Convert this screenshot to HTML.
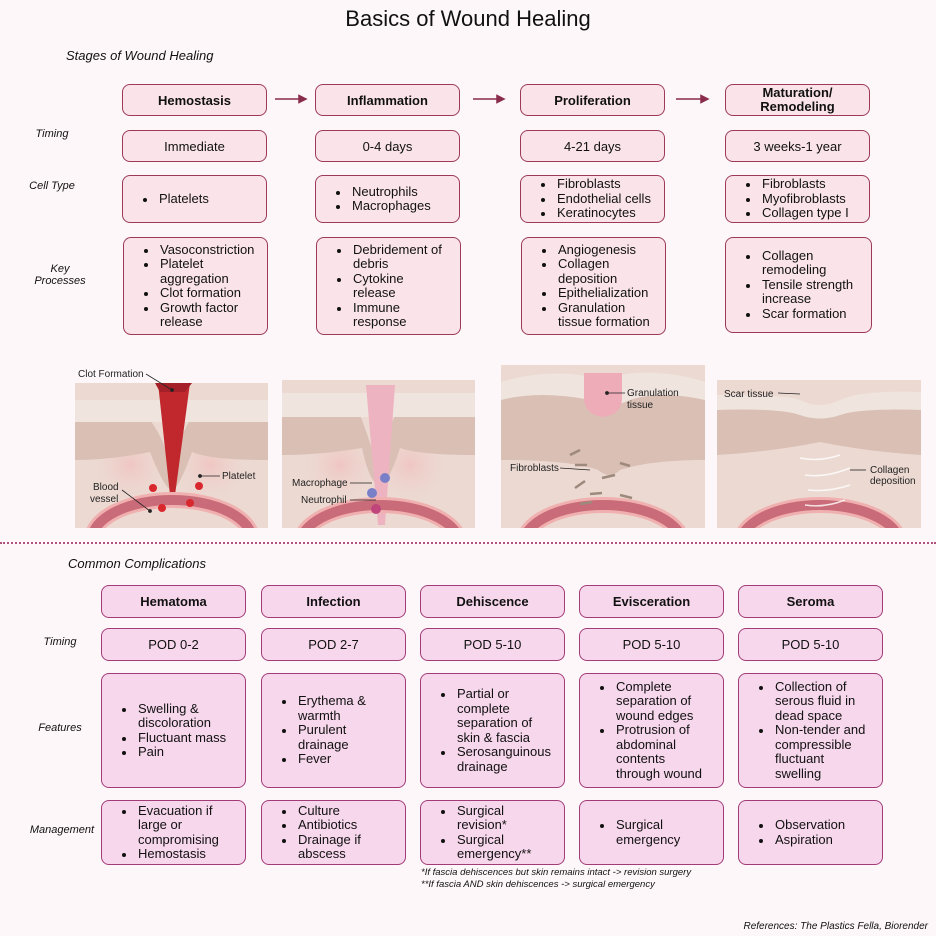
<!DOCTYPE html>
<html><head><meta charset="utf-8"><style>
*{margin:0;padding:0;box-sizing:border-box}
body{width:936px;height:936px;background:#fdf7fa;font-family:"Liberation Sans",sans-serif;color:#111;position:relative;overflow:hidden}
.a{position:absolute}
.t{border:1.6px solid #9c3a58;background:#fae4ea;border-radius:8px;display:flex;align-items:center;justify-content:center;font-size:13px;text-align:center}
.b{border:1.6px solid #a23c78;background:#f7d7ec;border-radius:8px;display:flex;align-items:center;justify-content:center;font-size:13px;text-align:center}
.h{font-weight:bold}
ul{list-style:none;text-align:left;line-height:14.5px;white-space:nowrap}
li{position:relative;padding-left:22px}
li:before{content:"";position:absolute;left:6px;top:6px;width:4px;height:4px;border-radius:50%;background:#111}
.lab{position:absolute;font-style:italic;font-size:11px;text-align:center;width:90px}
.sec{position:absolute;font-style:italic;font-size:13px}
.st{font-size:10px;fill:#222;font-family:"Liberation Sans",sans-serif}
.l{justify-content:flex-start;padding-left:14px}
</style></head><body>
<div class="a" style="left:0;width:936px;top:6px;text-align:center;font-size:22px">Basics of Wound Healing</div>
<div class="sec" style="left:66px;top:48px">Stages of Wound Healing</div>

<div class="lab" style="left:7px;top:128px">Timing</div>
<div class="lab" style="left:7px;top:180px">Cell Type</div>
<div class="lab" style="left:15px;top:263px">Key<br>Processes</div>

<div class="a t h" style="left:122px;top:84px;width:145px;height:32px">Hemostasis</div>
<div class="a t h" style="left:315px;top:84px;width:145px;height:32px">Inflammation</div>
<div class="a t h" style="left:520px;top:84px;width:145px;height:32px">Proliferation</div>
<div class="a t h" style="left:725px;top:84px;width:145px;height:32px;line-height:14px">Maturation/<br>Remodeling</div>

<svg class="a" style="left:0;top:0" width="936" height="120">
<g stroke="#8a2c4c" stroke-width="1.5" fill="#8a2c4c">
<line x1="275" y1="99" x2="300" y2="99"/><path d="M306 99 L299 95.5 L299 102.5Z"/>
<line x1="473" y1="99" x2="498" y2="99"/><path d="M504 99 L497 95.5 L497 102.5Z"/>
<line x1="676" y1="99" x2="702" y2="99"/><path d="M708 99 L701 95.5 L701 102.5Z"/>
</g></svg>

<div class="a t" style="left:122px;top:130px;width:145px;height:32px">Immediate</div>
<div class="a t" style="left:315px;top:130px;width:145px;height:32px">0-4 days</div>
<div class="a t" style="left:520px;top:130px;width:145px;height:32px">4-21 days</div>
<div class="a t" style="left:725px;top:130px;width:145px;height:32px">3 weeks-1 year</div>

<div class="a t l" style="left:122px;top:175px;width:145px;height:48px"><ul><li>Platelets</li></ul></div>
<div class="a t l" style="left:315px;top:175px;width:145px;height:48px"><ul><li>Neutrophils</li><li>Macrophages</li></ul></div>
<div class="a t l" style="left:520px;top:175px;width:145px;height:48px"><ul><li>Fibroblasts</li><li>Endothelial cells</li><li>Keratinocytes</li></ul></div>
<div class="a t l" style="left:725px;top:175px;width:145px;height:48px"><ul><li>Fibroblasts</li><li>Myofibroblasts</li><li>Collagen type I</li></ul></div>

<div class="a t l" style="left:123px;top:237px;width:145px;height:98px"><ul><li>Vasoconstriction</li><li>Platelet<br>aggregation</li><li>Clot formation</li><li>Growth factor<br>release</li></ul></div>
<div class="a t l" style="left:316px;top:237px;width:145px;height:98px"><ul><li>Debridement of<br>debris</li><li>Cytokine<br>release</li><li>Immune<br>response</li></ul></div>
<div class="a t l" style="left:521px;top:237px;width:145px;height:98px"><ul><li>Angiogenesis</li><li>Collagen<br>deposition</li><li>Epithelialization</li><li>Granulation<br>tissue formation</li></ul></div>
<div class="a t l" style="left:725px;top:237px;width:147px;height:96px"><ul><li>Collagen<br>remodeling</li><li>Tensile strength<br>increase</li><li>Scar formation</li></ul></div>

<!-- illustrations -->
<svg class="a" style="left:0;top:360px" width="936" height="180">
<defs>
<radialGradient id="rg"><stop offset="0" stop-color="#f2b8b8"/><stop offset="1" stop-color="#ecdad2" stop-opacity="0"/></radialGradient>
<clipPath id="c1"><rect x="75" y="23" width="193" height="145"/></clipPath>
<clipPath id="c2"><rect x="282" y="20" width="193" height="148"/></clipPath>
<clipPath id="c3"><rect x="501" y="5" width="204" height="163"/></clipPath>
<clipPath id="c4"><rect x="717" y="20" width="204" height="148"/></clipPath>
</defs>
<g clip-path="url(#c1)">
<rect x="75" y="23" width="193" height="145" fill="#ecdad2"/>
<ellipse cx="130" cy="105" rx="45" ry="45" fill="url(#rg)" opacity=".6"/>
<ellipse cx="210" cy="105" rx="45" ry="45" fill="url(#rg)" opacity=".6"/>
<path d="M75 60 L150 60 Q165 80 172 110 Q178 80 190 60 L268 60 L268 100 Q210 100 192 92 Q178 130 172 130 Q165 130 150 92 Q110 100 75 100Z" fill="#d9bfb4"/>
<path d="M75 40 L268 40 L268 62 L75 62Z" fill="#efe4de"/>
<path d="M158 23 L190 23 L175 135 L170 135Z" fill="#c0282e"/>
<path d="M155 23 L192 23 L185 32 L160 32Z" fill="#a51f28"/>
<ellipse cx="172" cy="180" rx="80" ry="40" fill="none" stroke="#f0b0b0" stroke-width="16"/>
<ellipse cx="172" cy="180" rx="80" ry="40" fill="none" stroke="#c96b78" stroke-width="10"/>
<g fill="#d8282e"><circle cx="153" cy="128" r="4"/><circle cx="162" cy="148" r="4"/><circle cx="190" cy="143" r="4"/><circle cx="199" cy="126" r="4"/></g>
</g>
<g clip-path="url(#c2)">
<rect x="282" y="20" width="193" height="148" fill="#ecdad2"/>
<ellipse cx="340" cy="105" rx="45" ry="45" fill="url(#rg)" opacity=".6"/>
<ellipse cx="410" cy="105" rx="45" ry="45" fill="url(#rg)" opacity=".6"/>
<path d="M282 55 L360 55 Q370 80 378 110 Q385 80 395 55 L475 55 L475 95 Q420 95 400 88 Q388 125 380 125 Q370 125 362 88 Q320 95 282 95Z" fill="#d9bfb4"/>
<path d="M282 33 L475 33 L475 57 L282 57Z" fill="#efe4de"/>
<path d="M366 25 L395 25 L385 165 L378 165Z" fill="#eeb3c0"/>
<ellipse cx="380" cy="185" rx="80" ry="40" fill="none" stroke="#f0b0b0" stroke-width="16"/>
<ellipse cx="380" cy="185" rx="80" ry="40" fill="none" stroke="#c96b78" stroke-width="10"/>
<circle cx="385" cy="118" r="5" fill="#7a80c8"/><circle cx="372" cy="133" r="5" fill="#7a80c8"/><circle cx="376" cy="149" r="5" fill="#c0457a"/>
</g>
<g clip-path="url(#c3)">
<rect x="501" y="5" width="204" height="163" fill="#ecdad2"/>
<path d="M501 30 Q540 20 570 30 Q600 40 610 48 Q630 40 650 25 Q680 20 705 30 L705 100 Q650 100 620 110 Q610 120 598 110 Q570 100 501 100Z" fill="#d9bfb4"/>
<path d="M501 22 Q540 10 580 15 Q600 20 620 15 Q660 8 705 22 L705 40 Q660 30 630 40 Q610 50 590 40 Q540 30 501 40Z" fill="#efe4de"/>
<path d="M584 13 L622 13 L622 40 Q620 55 603 57 Q586 55 584 40Z" fill="#eeabb8"/>
<ellipse cx="603" cy="185" rx="80" ry="40" fill="none" stroke="#f0b0b0" stroke-width="16"/>
<ellipse cx="603" cy="185" rx="80" ry="40" fill="none" stroke="#c96b78" stroke-width="10"/>
<g stroke="#9e8a7c" stroke-width="2.5"><line x1="570" y1="95" x2="580" y2="90"/><line x1="575" y1="105" x2="587" y2="105"/><line x1="620" y1="103" x2="630" y2="106"/><line x1="602" y1="118" x2="615" y2="115"/><line x1="575" y1="128" x2="585" y2="121"/><line x1="590" y1="134" x2="602" y2="133"/><line x1="620" y1="135" x2="632" y2="138"/><line x1="580" y1="144" x2="592" y2="142"/></g>
</g>
<g clip-path="url(#c4)">
<rect x="717" y="20" width="204" height="148" fill="#ecdad2"/>
<path d="M717 48 Q780 48 800 55 Q820 62 840 55 Q860 48 921 48 L921 95 Q870 92 820 82 Q770 92 717 95Z" fill="#d9bfb4"/>
<path d="M717 35 Q790 35 800 40 Q820 50 840 40 Q860 30 921 32 L921 50 Q860 48 840 55 Q820 62 800 55 Q780 48 717 50Z" fill="#efe4de"/>
<ellipse cx="820" cy="185" rx="80" ry="40" fill="none" stroke="#f0b0b0" stroke-width="16"/>
<ellipse cx="820" cy="185" rx="80" ry="40" fill="none" stroke="#c96b78" stroke-width="10"/>
<g stroke="#fff" stroke-width="1.5" fill="none" opacity=".8"><path d="M800 98 Q820 102 840 95"/><path d="M805 115 Q825 118 850 108"/><path d="M808 130 Q830 132 850 125"/><path d="M805 145 Q825 148 845 140"/></g>
</g>
<g stroke="#222" stroke-width="0.8" fill="#222">
<line x1="146" y1="14" x2="172" y2="30"/><circle cx="172" cy="30" r="1.5"/>
<line x1="220" y1="116" x2="200" y2="116"/><circle cx="200" cy="116" r="1.5"/>
<line x1="122" y1="130" x2="150" y2="151"/><circle cx="150" cy="151" r="1.5"/>
<line x1="350" y1="123" x2="372" y2="123"/><line x1="350" y1="140" x2="376" y2="140"/>
<line x1="625" y1="33" x2="607" y2="33"/><circle cx="607" cy="33" r="1.5"/>
<line x1="560" y1="108" x2="590" y2="110"/>
<line x1="778" y1="33" x2="800" y2="34"/>
<line x1="866" y1="110" x2="850" y2="110"/>
</g>
<text class="st" x="78" y="17">Clot Formation</text>
<text class="st" x="222" y="119">Platelet</text>
<text class="st" x="93" y="130">Blood</text><text class="st" x="90" y="142">vessel</text>
<text class="st" x="292" y="126">Macrophage</text>
<text class="st" x="301" y="143">Neutrophil</text>
<text class="st" x="627" y="36">Granulation</text><text class="st" x="627" y="48">tissue</text>
<text class="st" x="510" y="111">Fibroblasts</text>
<text class="st" x="724" y="37">Scar tissue</text>
<text class="st" x="870" y="113">Collagen</text><text class="st" x="870" y="124">deposition</text>
</svg>

<div class="a" style="left:0;top:542px;width:936px;border-top:2px dotted #b0507e"></div>

<div class="sec" style="left:68px;top:556px">Common Complications</div>
<div class="lab" style="left:15px;top:636px">Timing</div>
<div class="lab" style="left:15px;top:722px">Features</div>
<div class="lab" style="left:17px;top:824px">Management</div>

<div class="a b h" style="left:101px;top:585px;width:145px;height:33px">Hematoma</div>
<div class="a b h" style="left:261px;top:585px;width:145px;height:33px">Infection</div>
<div class="a b h" style="left:420px;top:585px;width:145px;height:33px">Dehiscence</div>
<div class="a b h" style="left:579px;top:585px;width:145px;height:33px">Evisceration</div>
<div class="a b h" style="left:738px;top:585px;width:145px;height:33px">Seroma</div>

<div class="a b" style="left:101px;top:628px;width:145px;height:33px">POD 0-2</div>
<div class="a b" style="left:261px;top:628px;width:145px;height:33px">POD 2-7</div>
<div class="a b" style="left:420px;top:628px;width:145px;height:33px">POD 5-10</div>
<div class="a b" style="left:579px;top:628px;width:145px;height:33px">POD 5-10</div>
<div class="a b" style="left:738px;top:628px;width:145px;height:33px">POD 5-10</div>

<div class="a b l" style="left:101px;top:673px;width:145px;height:115px"><ul><li>Swelling &amp;<br>discoloration</li><li>Fluctuant mass</li><li>Pain</li></ul></div>
<div class="a b l" style="left:261px;top:673px;width:145px;height:115px"><ul><li>Erythema &amp;<br>warmth</li><li>Purulent<br>drainage</li><li>Fever</li></ul></div>
<div class="a b l" style="left:420px;top:673px;width:145px;height:115px"><ul><li>Partial or<br>complete<br>separation of<br>skin &amp; fascia</li><li>Serosanguinous<br>drainage</li></ul></div>
<div class="a b l" style="left:579px;top:673px;width:145px;height:115px"><ul><li>Complete<br>separation of<br>wound edges</li><li>Protrusion of<br>abdominal<br>contents<br>through wound</li></ul></div>
<div class="a b l" style="left:738px;top:673px;width:145px;height:115px"><ul><li>Collection of<br>serous fluid in<br>dead space</li><li>Non-tender and<br>compressible<br>fluctuant<br>swelling</li></ul></div>

<div class="a b l" style="left:101px;top:800px;width:145px;height:65px"><ul><li>Evacuation if<br>large or<br>compromising</li><li>Hemostasis</li></ul></div>
<div class="a b l" style="left:261px;top:800px;width:145px;height:65px"><ul><li>Culture</li><li>Antibiotics</li><li>Drainage if<br>abscess</li></ul></div>
<div class="a b l" style="left:420px;top:800px;width:145px;height:65px"><ul><li>Surgical<br>revision*</li><li>Surgical<br>emergency**</li></ul></div>
<div class="a b l" style="left:579px;top:800px;width:145px;height:65px"><ul><li>Surgical<br>emergency</li></ul></div>
<div class="a b l" style="left:738px;top:800px;width:145px;height:65px"><ul><li>Observation</li><li>Aspiration</li></ul></div>

<div class="a" style="left:421px;top:867px;font-size:9.5px;font-style:italic;line-height:11.5px">*If fascia dehiscences but skin remains intact -&gt; revision surgery<br>**If fascia AND skin dehiscences -&gt; surgical emergency</div>
<div class="a" style="right:8px;top:921px;font-size:10px;font-style:italic">References: The Plastics Fella, Biorender</div>
</body></html>
